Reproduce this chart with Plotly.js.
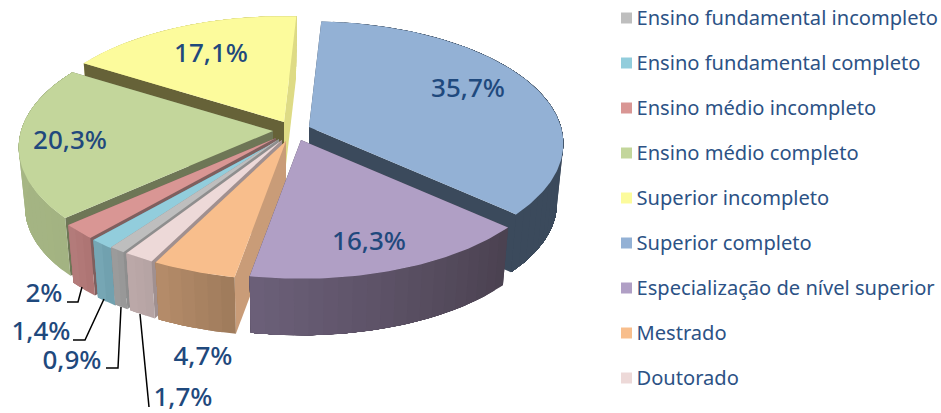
<!DOCTYPE html>
<html>
<head>
<meta charset="utf-8">
<script src="https://cdn.plot.ly/plotly-3.0.1.min.js"></script>
<style>html,body{margin:0;padding:0;background:#fff}#c{width:941px;height:413px}</style>
</head>
<body>
<div id="c"></div>
<script>
// Data (legend order = clockwise slice order)
const categories = ["Ensino fundamental incompleto","Ensino fundamental completo","Ensino médio incompleto","Ensino médio completo","Superior incompleto","Superior completo","Especialização de nível superior","Mestrado","Doutorado"];
const values = [0.9,1.4,2,20.3,17.1,35.7,16.3,4.7,1.7];
const valueLabels = ["0,9%","1,4%","2%","20,3%","17,1%","35,7%","16,3%","4,7%","1,7%"];

// Styles
const topColors  = ["#BEBEBE","#92CDDC","#D99694","#C3D69B","#FCFB9C","#93B1D5","#B09FC5","#F8BE8C","#EDD9D8"];
const wallLeft   = ["#9C9C9C","#78A9B6","#B47C7B","#A8B886","#DAD886","#3B4A5C","#6C6079","#B68D6A","#BCA9A9"];
const wallRight  = ["#969696","#6E9EAC","#AD7473","#A3B382","#DAD886","#3B4A5C","#4A4150","#9E7A5B","#B5A3A3"];
const radialFrom = ["#8E8E8E","#5F8792","#7F5F5E","#6E7656","#666238","#3B4A5C","#4A4150","#C99C78","#A09090"];
const radialTo   = ["#8E8E8E","#5F8792","#7F5F5E","#6E7656","#DEDB85","#3B4A5C","#4A4150","#C99C78","#A09090"];
// Geometry of the tilted, exploded pie (axes are in page pixels)
const apexX = [279,279,276,273,284,309,301,286,282];
const apexY = [139,140,138,131,122,127,140,141,140];
const drawOrder = [5,4,3,2,1,0,8,7,6];
const startAngle = 213.2, rx = 252, ry = 120, persp = 0.135, depth = 60, shrink = 0.975;
const labelX = [72,41,44,70,211,468,369,203,183];
const labelY = [362,333,295,142,55,90,243,358,399];
const leaderX = [[121,118,106],[104,85,73],[82,78,67],[],[],[],[],[],[140,149]];
const leaderY = [[307,368,368],[299,340,340],[287,302,302],[],[],[],[],[],[314,407]];
const legendTop = 18, legendStep = 45, legendSwatchX = 626.5, legendTextX = 636.5, legendTextDy = 2;
const textColor = "#1F497D", legendTextColor = "#2C5285";

function rim(i, deg){
  const a = deg*Math.PI/180, u = Math.sin(a), v = -Math.cos(a), s = 1/(1-persp*v);
  return [apexX[i]+rx*u*s, apexY[i]+ry*v*s];
}
function below(i, p){
  return [apexX[i]+(p[0]-apexX[i])*shrink, apexY[i]+depth+(p[1]-apexY[i])*shrink];
}
function poly(pts, color){
  return {type:"scatter",mode:"lines",x:pts.map(p=>p[0]),y:pts.map(p=>p[1]),fill:"toself",fillcolor:color,
    line:{color:"rgba(0,0,0,0)",width:0},hoverinfo:"skip",showlegend:false};
}
function mix(a,b,t){
  const h=c=>[1,3,5].map(k=>parseInt(c.substr(k,2),16));
  const A=h(a),B=h(b);
  return "rgb("+A.map((x,j)=>Math.round(x+(B[j]-x)*t)).join(",")+")";
}
const total = values.reduce((a,b)=>a+b,0);
const from = [], to = [];
let acc = startAngle;
values.forEach((v,i)=>{from[i]=acc; acc+=v/total*360; to[i]=acc;});

const traces = [];
drawOrder.forEach(i=>{
  const ap=[apexX[i],apexY[i]], ap2=below(i,ap);
  const p0=rim(i,from[i]), p1=rim(i,to[i]);
  const n=Math.max(2,Math.ceil(to[i]-from[i]));
  const radial=[poly([ap,p0,below(i,p0),ap2,ap],radialFrom[i]), poly([ap,p1,below(i,p1),ap2,ap],radialTo[i])];
  // outer wall painted as overlapping bands so no seams appear
  const outer=[];
  const bands=Math.max(1,Math.ceil(n/3));
  for(let k=0;k<bands;k++){
    const a0=from[i]+(to[i]-from[i])*k/bands, pts=[];
    for(let j=0;j<=n;j++){const a=a0+(to[i]-a0)*j/n; pts.push(rim(i,a));}
    for(let j=n;j>=0;j--){const a=a0+(to[i]-a0)*j/n; pts.push(below(i,rim(i,a)));}
    pts.push(pts[0]);
    outer.push(poly(pts,mix(wallRight[i],wallLeft[i],(k+0.5)/bands)));
  }
  const mid=(from[i]+to[i])/2*Math.PI/180;
  if(Math.cos(mid)>0) traces.push(...outer,...radial); else traces.push(...radial,...outer);
  const top=[ap];
  for(let k=0;k<=n;k++) top.push(rim(i,from[i]+(to[i]-from[i])*k/n));
  top.push(ap);
  traces.push(poly(top,topColors[i]));
});
// leader lines
leaderX.forEach((lx,i)=>{
  if(lx.length) traces.push({type:"scatter",mode:"lines",x:lx,y:leaderY[i],line:{color:"#000",width:1.5},hoverinfo:"skip",showlegend:false});
});
// value labels
traces.push({type:"scatter",mode:"text",x:labelX,y:labelY,text:valueLabels,textposition:"middle center",
  textfont:{family:"Noto Sans",size:26,color:textColor,weight:500},hoverinfo:"skip",showlegend:false});
// legend
const legY = categories.map((c,i)=>legendTop+i*legendStep);
traces.push({type:"scatter",mode:"markers",x:categories.map(()=>legendSwatchX),y:legY,
  marker:{symbol:"square",size:11,color:topColors,line:{width:0}},hoverinfo:"skip",showlegend:false});
traces.push({type:"scatter",mode:"text",x:categories.map(()=>legendTextX),y:legY.map(y=>y+legendTextDy),text:categories,textposition:"middle right",
  textfont:{family:"Noto Sans",size:20.1,color:legendTextColor},hoverinfo:"skip",showlegend:false});

Plotly.newPlot("c",traces,{
  width:941,height:413,margin:{l:0,r:0,t:0,b:0},paper_bgcolor:"#fff",plot_bgcolor:"#fff",showlegend:false,
  xaxis:{range:[0,941],visible:false,fixedrange:true},
  yaxis:{range:[413,0],visible:false,fixedrange:true}
},{displayModeBar:false,staticPlot:true});
</script>
</body>
</html>
